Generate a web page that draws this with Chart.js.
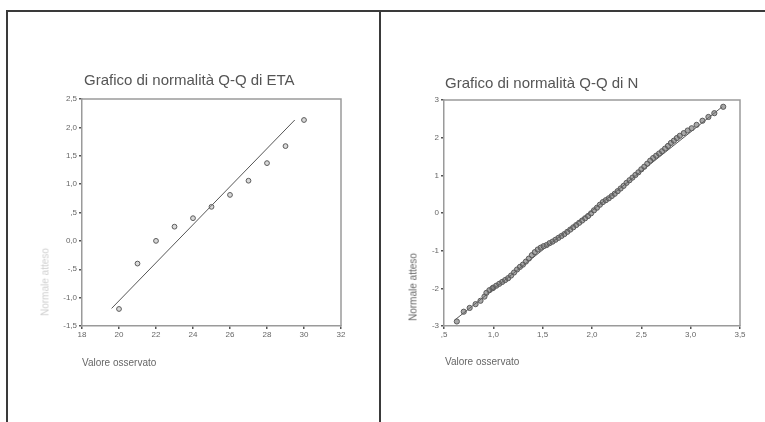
<!DOCTYPE html>
<html>
<head>
<meta charset="utf-8">
<script src="https://cdn.jsdelivr.net/npm/chart.js@4/dist/chart.umd.min.js"></script>
<style>
  html, body { margin: 0; padding: 0; background: #fff; }
  #wrap { position: relative; width: 765px; height: 422px; overflow: hidden; font-family: "Liberation Sans", Arial, sans-serif; }
  canvas { position: absolute; top: 0; }
  .frame { position: absolute; background: #3a3a3a; }
  .title { position: absolute; font-size: 15px; color: #555; white-space: nowrap; }
  .xt { position: absolute; font-size: 10px; color: #666; white-space: nowrap; }
  .yt { position: absolute; font-size: 10px; color: #666; white-space: nowrap; transform: translate(-50%, -50%) rotate(-90deg); }
</style>
</head>
<body>
<div id="wrap">
  <div class="frame" style="left:6px; top:10px; width:759px; height:2px;"></div>
  <div class="frame" style="left:6px; top:10px; width:2px; height:412px;"></div>
  <div class="frame" style="left:379px; top:10px; width:2px; height:412px;"></div>
  <canvas id="c1" width="380" height="422" style="left:0px;"></canvas>
  <canvas id="c2" width="385" height="422" style="left:380px;"></canvas>
  <div class="title" style="left:84px; top:71px;">Grafico di normalità Q-Q di ETA</div>
  <div class="title" style="left:445px; top:74px;">Grafico di normalità Q-Q di N</div>
  <div class="xt" style="left:82px; top:357px;">Valore osservato</div>
  <div class="xt" style="left:445px; top:356px;">Valore osservato</div>
  <div class="yt" style="left:45px; top:282px; color:#cfcfcf;">Normale atteso</div>
  <div class="yt" style="left:413px; top:287px;">Normale atteso</div>
</div>
<script>
// ---- Data: Q-Q plot of ETA ----
const etaObserved = [20, 21, 22, 23, 24, 25, 26, 27, 28, 29, 30];
const etaExpected = [-1.2, -0.4, 0.0, 0.25, 0.40, 0.60, 0.81, 1.06, 1.37, 1.67, 2.13];
const etaLineX = [19.6, 29.5];
const etaLineY = [-1.19, 2.13];

// ---- Data: Q-Q plot of N ----
const nObserved = [0.63, 0.70, 0.76, 0.82, 0.87, 0.91, 0.93, 0.96, 0.99,
  1.00, 1.03, 1.06, 1.09, 1.12, 1.15, 1.18, 1.21, 1.24, 1.27, 1.30, 1.33, 1.36, 1.39,
  1.42, 1.45, 1.48, 1.51, 1.54, 1.57, 1.60, 1.63, 1.66, 1.69, 1.72, 1.75, 1.78, 1.81,
  1.84, 1.87, 1.90, 1.93, 1.96, 1.99, 2.02, 2.05, 2.08, 2.11, 2.14, 2.17, 2.20, 2.23,
  2.26, 2.29, 2.32, 2.35, 2.38, 2.41, 2.44, 2.47, 2.50, 2.53, 2.56, 2.59, 2.62, 2.65,
  2.68, 2.71, 2.74, 2.77, 2.80, 2.83, 2.86, 2.89,
  2.93, 2.97, 3.01, 3.06, 3.12, 3.18, 3.24, 3.33];
const nExpected = [-2.88, -2.62, -2.52, -2.42, -2.33, -2.22, -2.12, -2.05, -2.00,
  -1.98, -1.93, -1.88, -1.83, -1.78, -1.73, -1.66, -1.58, -1.50, -1.43, -1.37, -1.29, -1.21, -1.12,
  -1.04, -0.97, -0.92, -0.88, -0.85, -0.80, -0.76, -0.71, -0.66, -0.61, -0.56, -0.50, -0.44, -0.38,
  -0.32, -0.26, -0.20, -0.14, -0.08, -0.01, 0.07, 0.14, 0.22, 0.29, 0.34, 0.39, 0.45, 0.51,
  0.58, 0.65, 0.72, 0.80, 0.87, 0.94, 1.01, 1.08, 1.16, 1.23, 1.31, 1.39, 1.46, 1.52,
  1.58, 1.64, 1.71, 1.78, 1.86, 1.92, 1.99, 2.05,
  2.12, 2.19, 2.25, 2.34, 2.45, 2.55, 2.65, 2.82];
const nLineX = [0.61, 3.32];
const nLineY = [-2.84, 2.82];

// ---- Axis ranges ----
const etaXRange = [18, 32, 2];
const etaYRange = [-1.5, 2.5, 0.5];
const nXRange = [0.5, 3.5, 0.5];
const nYRange = [-3, 3, 1];

function itNum(v, dec) {
  let s = Math.abs(v).toFixed(dec).replace('.', ',');
  if (dec > 0 && Math.abs(v) < 1 && v !== 0) s = s.replace(/^0/, '');
  return (v < 0 ? '-' : '') + s;
}

const boxPlugin = {
  id: 'box',
  afterDraw(chart) {
    const a = chart.chartArea, ctx = chart.ctx;
    ctx.save();
    ctx.strokeStyle = '#9a9a9a';
    ctx.lineWidth = 1.5;
    ctx.beginPath();
    ctx.moveTo(a.left, a.top); ctx.lineTo(a.right, a.top); ctx.lineTo(a.right, a.bottom);
    ctx.stroke();
    ctx.restore();
  }
};

function makeChart(id, xs, ys, lx, ly, xr, yr, xdec, ydec, pad, ptFill, ptRadius) {
  const pts = xs.map((x, i) => ({ x: x, y: ys[i] }));
  const line = lx.map((x, i) => ({ x: x, y: ly[i] }));
  const tickFont = { family: 'Liberation Sans', size: 8 };
  return new Chart(document.getElementById(id), {
    type: 'scatter',
    data: {
      datasets: [
        { data: line, type: 'line', showLine: true, borderColor: '#555', borderWidth: 1,
          pointRadius: 0, fill: false, order: 2 },
        { data: pts, pointStyle: 'circle', pointRadius: ptRadius, borderWidth: 1,
          borderColor: '#5a5a5a', backgroundColor: ptFill, order: 1 }
      ]
    },
    options: {
      responsive: false,
      animation: false,
      devicePixelRatio: 1,
      layout: { padding: pad },
      plugins: { legend: { display: false }, tooltip: { enabled: false }, title: { display: false } },
      scales: {
        x: {
          type: 'linear', min: xr[0], max: xr[1],
          afterFit: s => { s.height = 20; },
          ticks: { stepSize: xr[2], color: '#666', font: tickFont, padding: 1, maxRotation: 0,
            callback: v => itNum(v, xdec) },
          grid: { display: true, drawOnChartArea: false, drawTicks: true, tickLength: 3, color: '#555', lineWidth: 1.5 },
          border: { display: true, color: '#9a9a9a', width: 1.5 }
        },
        y: {
          type: 'linear', min: yr[0], max: yr[1],
          afterFit: s => { s.width = 30; },
          ticks: { stepSize: yr[2], color: '#666', font: tickFont, padding: 2,
            callback: v => itNum(v, ydec) },
          grid: { display: true, drawOnChartArea: false, drawTicks: true, tickLength: 3, color: '#555', lineWidth: 1.5 },
          border: { display: true, color: '#9a9a9a', width: 1.5 }
        }
      }
    },
    plugins: [boxPlugin]
  });
}

makeChart('c1', etaObserved, etaExpected, etaLineX, etaLineY, etaXRange, etaYRange, 0, 1,
  { left: 52, right: 39, top: 99, bottom: 76 }, 'rgba(170,170,170,0.45)', 2.4);
makeChart('c2', nObserved, nExpected, nLineX, nLineY, nXRange, nYRange, 1, 0,
  { left: 34, right: 25, top: 100, bottom: 76 }, 'rgba(110,110,110,0.6)', 2.6);
</script>
</body>
</html>
